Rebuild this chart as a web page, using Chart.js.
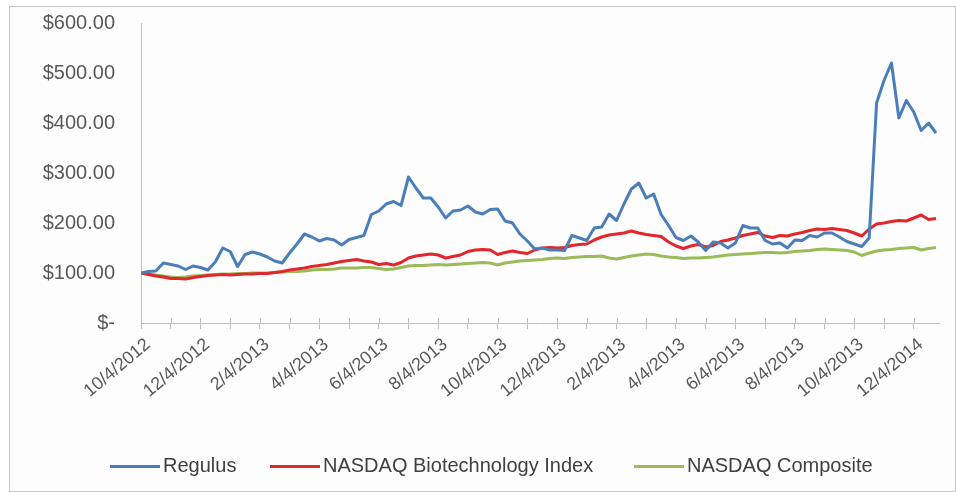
<!DOCTYPE html>
<html>
<head>
<meta charset="utf-8">
<script src="https://cdn.jsdelivr.net/npm/chart.js@4.4.1/dist/chart.umd.min.js"></script>
<style>
body{margin:0;background:#fff;font-family:"Liberation Sans",Arial,sans-serif}
#box{position:absolute;left:9px;top:6px;width:947px;height:486px;border:1px solid #c6c6c6;box-sizing:border-box;background:#fdfdfd}
#wrap{position:absolute;left:0;top:-22px;width:945px;height:506px}
.item{position:absolute;top:447px;font-size:20px;color:#404040;white-space:nowrap}
.item span{display:inline-block;width:50px;height:3px;vertical-align:middle;margin-right:3px}
</style>
</head>
<body>
<div id="box">
<div id="wrap"><canvas id="grafico"></canvas></div>
<div class="item" style="left:100px"><span style="background:#4a7ebb"></span>Regulus</div>
<div class="item" style="left:260px"><span style="background:#e2262b"></span>NASDAQ Biotechnology Index</div>
<div class="item" style="left:624px"><span style="background:#9bbb59"></span>NASDAQ Composite</div>
</div>
<script>
// one value per week (0.25 month), starting 10/4/2012
let xLabels = ["10/4/2012","12/4/2012","2/4/2013","4/4/2013","6/4/2013","8/4/2013","10/4/2013","12/4/2013","2/4/2013","4/4/2013","6/4/2013","8/4/2013","10/4/2013","12/4/2014"]
let yLabels = ["$-","$100.00","$200.00","$300.00","$400.00","$500.00","$600.00"]

let regulus = [100,103,104,120,117,114,107,114,111,106,
122,150,143,113,137,142,138,132,124,120,
140,158,178,172,164,169,166,156,167,171,
175,217,224,238,243,235,292,270,250,250,
232,210,224,226,234,222,218,227,228,204,
200,178,164,148,150,146,146,145,175,170,
165,190,192,218,205,238,268,280,250,258,
217,195,171,165,174,162,145,162,160,150,
160,195,190,190,165,158,160,150,166,165,
175,172,180,180,172,163,158,153,170,440,
485,520,410,445,422,385,400,380]

let biotech = [100,97,94,92,89,89,88,91,93,95,
96,97,96,97,98,98,99,99,101,103,
106,108,110,113,115,117,120,123,125,127,
124,122,117,119,116,121,130,134,136,138,
136,130,133,136,143,146,147,146,137,141,
144,141,139,146,150,151,150,151,155,157,
158,166,172,176,178,180,184,180,177,175,
173,162,154,149,154,157,152,155,163,166,
170,175,178,181,174,171,175,174,178,181,
185,188,187,189,187,185,180,174,188,198,
200,203,205,204,210,216,207,209]

let composite = [100,98,96,94,92,91,92,94,95,96,
97,98,98,99,99,100,100,100,101,102,
103,103,104,106,107,107,108,110,110,110,
111,111,109,107,108,111,114,115,115,116,
117,116,117,118,119,120,121,120,116,120,
122,124,125,126,127,129,130,129,131,132,
133,133,134,130,128,131,134,136,138,137,
134,132,131,129,130,130,131,132,134,136,
137,138,139,140,141,141,140,141,143,144,
145,147,148,147,146,145,142,135,140,144,
146,147,149,150,151,146,149,151]

function pontos(lista){
return lista.map((v,i)=>({x:i/4,y:v}))
}

let crossTicks = {
id:"crossTicks",
afterDraw(chart){
let s = chart.scales.x
let ctx = chart.ctx
ctx.save()
ctx.strokeStyle = "#bfbfbf"
ctx.lineWidth = 1
s.ticks.forEach(t=>{
let x = Math.round(s.getPixelForValue(t.value))+0.5
ctx.beginPath()
ctx.moveTo(x,s.top-5)
ctx.lineTo(x,s.top)
ctx.stroke()
})
ctx.restore()
}
}

let ctx = document.getElementById("grafico")

new Chart(ctx,{
type:"line",
data:{
datasets:[
{label:"Regulus",data:pontos(regulus),borderColor:"#4a7ebb"},
{label:"NASDAQ Biotechnology Index",data:pontos(biotech),borderColor:"#e2262b"},
{label:"NASDAQ Composite",data:pontos(composite),borderColor:"#9bbb59"}
]
},
options:{
responsive:true,
maintainAspectRatio:false,
animation:false,
elements:{
point:{radius:0},
line:{borderWidth:3,tension:0,borderJoinStyle:"round"}
},
layout:{padding:{top:12,right:16,left:0,bottom:0}},
plugins:{
legend:{display:false},
tooltip:{enabled:false}
},
scales:{
x:{
type:"linear",
min:0,
max:26.85,
afterFit:s=>{s.height=168},
grid:{drawOnChartArea:false,tickLength:6,color:"#bfbfbf"},
border:{color:"#bfbfbf"},
ticks:{
stepSize:1,
autoSkip:false,
includeBounds:false,
minRotation:40,
maxRotation:40,
padding:5,
labelOffset:7,
color:"#595959",
font:{family:"Liberation Sans",size:18},
callback:v=>(v%2===0 ? xLabels[v/2] : "")
}
},
y:{
min:0,
max:600,
afterFit:s=>{s.width=131},
grid:{drawOnChartArea:false,drawTicks:false},
border:{color:"#bfbfbf"},
ticks:{
stepSize:100,
padding:26,
color:"#595959",
font:{family:"Liberation Sans",size:20},
callback:v=>yLabels[v/100]
}
}
}
},
plugins:[crossTicks]
})
</script>
</body>
</html>
